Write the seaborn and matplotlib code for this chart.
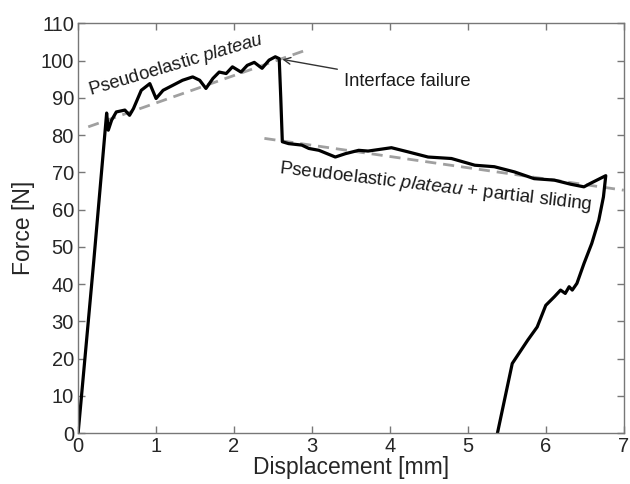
import numpy as np
import pandas as pd
import matplotlib
matplotlib.use("Agg")
import matplotlib.pyplot as plt
import seaborn as sns

# Force-displacement record of the joint test
displacement = [0.00, 0.10, 0.20, 0.30, 0.366, 0.387, 0.43, 0.49, 0.60, 0.66,
                0.71, 0.81, 0.92, 1.00, 1.09, 1.22, 1.34, 1.47, 1.56, 1.64,
                1.73, 1.81, 1.90, 1.98, 2.09, 2.17, 2.26, 2.36, 2.45, 2.53,
                2.58, 2.60, 2.62, 2.70, 2.87, 2.96, 3.09, 3.30, 3.43, 3.60,
                3.72, 4.02, 4.23, 4.49, 4.79, 5.09, 5.34, 5.60, 5.85, 6.11,
                6.32, 6.49, 6.57, 6.77, 6.74, 6.68, 6.59, 6.49, 6.40, 6.34,
                6.30, 6.25, 6.19, 6.11, 6.00, 5.89, 5.77, 5.57, 5.38]
force = [0.0, 23.0, 46.0, 70.0, 85.9, 81.3, 84.0, 86.2, 86.7, 85.3,
         87.1, 92.0, 93.8, 89.8, 92.0, 93.4, 94.7, 95.6, 94.7, 92.5,
         95.2, 96.9, 96.5, 98.3, 96.9, 98.7, 99.5, 97.9, 100.1, 101.0,
         100.5, 90.0, 78.2, 77.7, 77.3, 76.4, 75.9, 74.1, 75.0, 75.9,
         75.7, 76.6, 75.5, 74.1, 73.7, 71.9, 71.5, 70.1, 68.3, 67.9,
         66.8, 66.1, 67.0, 69.1, 63.4, 57.1, 50.9, 45.5, 40.2, 38.4,
         39.3, 37.5, 38.4, 36.6, 34.3, 28.5, 25.0, 18.7, 0.0]

# Linear trends of the two plateaus
trend1_x = [0.13, 2.94]
trend1_y = [82.2, 102.9]
trend2_x = [2.39, 7.0]
trend2_y = [79.1, 65.2]

x_ticks = [0, 1, 2, 3, 4, 5, 6, 7]
y_ticks = [0, 10, 20, 30, 40, 50, 60, 70, 80, 90, 100, 110]

sns.set_style("ticks")
plt.rcParams["font.family"] = ["Liberation Sans", "DejaVu Sans"]
plt.rcParams["mathtext.fontset"] = "custom"
plt.rcParams["mathtext.rm"] = "Liberation Sans"
plt.rcParams["mathtext.it"] = "Liberation Sans:italic"

fig = plt.figure(figsize=(6.30, 4.84), dpi=100)
ax = fig.add_axes([0.124, 0.105, 0.866, 0.847])

curve = pd.DataFrame({"x": displacement, "y": force})
t1 = pd.DataFrame({"x": trend1_x, "y": trend1_y})
t2 = pd.DataFrame({"x": trend2_x, "y": trend2_y})

dash_kw = dict(color="#a0a0a0", linewidth=2.0, dashes=(4, 2.5),
               estimator=None)
sns.lineplot(data=t1, x="x", y="y", ax=ax, sort=False, zorder=1, **dash_kw)
sns.lineplot(data=t2, x="x", y="y", ax=ax, sort=False, zorder=1, **dash_kw)
sns.lineplot(data=curve, x="x", y="y", ax=ax, sort=False, estimator=None,
             color="black", linewidth=2.3, zorder=2)

ax.set_xlim(0, 7)
ax.set_ylim(0, 110)
ax.set_xticks(x_ticks)
ax.set_yticks(y_ticks)
ax.set_xlabel("Displacement [mm]", fontsize=16.5, color="#262626", labelpad=0)
ax.set_ylabel("Force [N]", fontsize=16.5, color="#262626", labelpad=4)
ax.tick_params(direction="in", top=True, right=True, length=5, width=1,
               color="#777777", labelsize=14.5, labelcolor="#262626", pad=3)
for s in ax.spines.values():
    s.set_visible(True)
    s.set_color("#777777")
    s.set_linewidth(1.0)

ax.text(0.162, 90.7, r"Pseudoelastic $\it{plateau}$", fontsize=13.2,
        color="#1a1a1a", rotation=16.5, rotation_mode="anchor",
        ha="left", va="baseline")
ax.text(2.577, 69.7, r"Pseudoelastic $\it{plateau}$ + partial sliding",
        fontsize=13.5, color="#1a1a1a", rotation=-6.7, rotation_mode="anchor",
        ha="left", va="baseline")
ax.annotate("Interface failure", xy=(2.62, 100.3), xytext=(3.41, 94.3),
            fontsize=13.2, color="#1a1a1a", ha="left", va="center",
            arrowprops=dict(arrowstyle="->", color="#333333", lw=1.0,
                            shrinkA=3, shrinkB=0, mutation_scale=12))

fig.savefig("out.png", dpi=100)
